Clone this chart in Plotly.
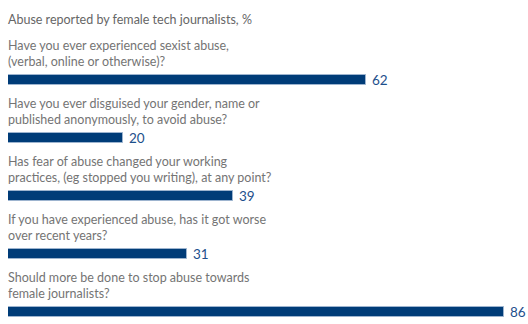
import plotly.graph_objects as go

title = "Abuse reported by female tech journalists, %"
questions = [
    "Have you ever experienced sexist abuse,<br>(verbal, online or otherwise)?",
    "Have you ever disguised your gender, name or<br>published anonymously, to avoid abuse?",
    "Has fear of abuse changed your working<br>practices, (eg stopped you writing), at any point?",
    "If you have experienced abuse, has it got worse<br>over recent years?",
    "Should more be done to stop abuse towards<br>female journalists?",
]
values = [62, 20, 39, 31, 86]

FONT = "Lato"
fig = go.Figure()
fig.add_trace(go.Bar(
    y=questions, x=values, orientation="h",
    width=0.172,
    marker=dict(color="#003c78", line=dict(color="#9db4cf", width=1)),
    text=["\u00a0" + str(v) for v in values], textposition="outside",
    constraintext="none",
    textfont=dict(family=FONT, size=13.5, color="#1d4f8b"),
    cliponaxis=False,
))

annotations = [dict(
    text=title, xref="paper", yref="paper", x=0, y=1, xanchor="left", yanchor="middle",
    yshift=41, xshift=-2, showarrow=False, font=dict(family=FONT, size=12.5, color="#666666"),
)]
for q in questions:
    annotations.append(dict(
        text=q, xref="x", yref="y", x=0, y=q, xanchor="left", yanchor="bottom",
        yshift=9, xshift=-2, showarrow=False, align="left",
        font=dict(family=FONT, size=12.5, color="#747474"),
    ))

fig.update_layout(
    width=528, height=324,
    margin=dict(l=8, r=0, t=60, b=4),
    plot_bgcolor="white", paper_bgcolor="white",
    showlegend=False,
    xaxis=dict(range=[0, 90.1], visible=False),
    yaxis=dict(range=[4.138, -0.345], visible=False, type="category"),
    annotations=annotations,
    bargap=0,
)
fig.write_html("out.html")
